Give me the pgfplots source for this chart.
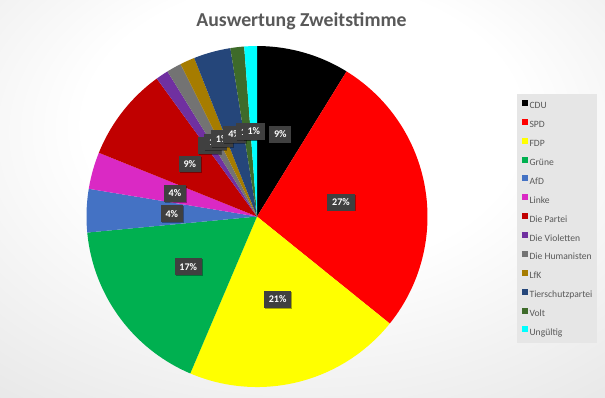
\documentclass[border=0pt]{standalone}
\usepackage{pgfplots}
\pgfplotsset{compat=1.18}
\usepackage{fontspec}
\setmainfont{Carlito}
\usetikzlibrary{shadows}
\definecolor{cCDU}{HTML}{000000}
\definecolor{cSPD}{HTML}{FF0000}
\definecolor{cFDP}{HTML}{FFFF00}
\definecolor{cGRU}{HTML}{00B050}
\definecolor{cAFD}{HTML}{4472C4}
\definecolor{cLIN}{HTML}{DA29C4}
\definecolor{cPAR}{HTML}{C00000}
\definecolor{cVIO}{HTML}{7030A0}
\definecolor{cHUM}{HTML}{737373}
\definecolor{cLFK}{HTML}{A67C00}
\definecolor{cTIE}{HTML}{25467A}
\definecolor{cVOL}{HTML}{3E6B2A}
\definecolor{cUNG}{HTML}{00FFFF}
\definecolor{lblgray}{HTML}{404040}
\definecolor{txtgray}{HTML}{595959}
\definecolor{legbg}{HTML}{E6E6E6}
\definecolor{bgA}{gray}{0.87}
\definecolor{bgB}{gray}{0.81}
\pgfdeclareradialshading{bgshade}{\pgfpoint{0bp}{12bp}}{color(0bp)=(white); color(18bp)=(white); color(50bp)=(bgA); color(80bp)=(bgB)}
% slice: start% end% colour  (clockwise from top)
\newcommand{\slice}[3]{%
  \addplot[fill=#3, draw=none, domain=#1:#2, samples=60, variable=\t]
    ({sin(3.6*\t)},{cos(3.6*\t)}) -- (0,0) -- cycle;}
% label at 0.5 r on the slice's middle
\newcommand{\slicelabel}[2]{%
  \addplot[draw=none, samples at={#1}, variable=\t, nodes near coords={#2},
    every node near coord/.style={lbl}]
    ({0.5*sin(3.6*\t)},{0.5*cos(3.6*\t)});}
\begin{document}
\begin{tikzpicture}[
  lbl/.style={fill=lblgray, text=white, font=\bfseries\fontsize{7.6}{9}\selectfont,
    inner xsep=3.6pt, inner ysep=0pt, minimum height=12.6pt, anchor=center,
    drop shadow={shadow xshift=0.7pt, shadow yshift=-0.7pt, opacity=0.35, fill=black}}]
\path[use as bounding box] (0,0) rectangle (453.75pt,298.5pt);
\shade[shading=bgshade] (0,0) rectangle (453.75pt,298.5pt);
\node[anchor=base, text=txtgray, font=\bfseries\fontsize{14.8}{17}\selectfont]
  at (226.1pt, 278.5pt) {Auswertung Zweitstimme};
\begin{axis}[
  at={(192.75pt,136.1pt)}, anchor=center,
  scale only axis, width=255.75pt, height=255.75pt,
  xmin=-1, xmax=1, ymin=-1, ymax=1,
  axis lines=none, clip=false,
  legend style={at={(1.2616,0.859)}, anchor=north west, draw=none, fill=legbg,
    font=\fontsize{7.2}{8.6}\selectfont, text=txtgray,
    inner xsep=3.75pt, inner ysep=4.2pt, row sep=5.9pt,
    nodes={inner sep=0pt, text height=5.2pt, text depth=1.5pt}},
  legend cell align=left,
  legend image code/.code={\fill[#1] (0pt,0.4pt) rectangle (4.5pt,4.9pt);},
]
\slice{0}{8.8}{cCDU}        \addlegendentry{\,CDU}
\slice{8.8}{35.8}{cSPD}     \addlegendentry{\,SPD}
\slice{35.8}{56.4}{cFDP}    \addlegendentry{\,FDP}
\slice{56.4}{73.5}{cGRU}    \addlegendentry{\,Grüne}
\slice{73.5}{77.6}{cAFD}    \addlegendentry{\,AfD}
\slice{77.6}{81.1}{cLIN}    \addlegendentry{\,Linke}
\slice{81.1}{90.0}{cPAR}    \addlegendentry{\,Die Partei}
\slice{90.0}{91.2}{cVIO}    \addlegendentry{\,Die Violetten}
\slice{91.2}{92.6}{cHUM}    \addlegendentry{\,Die Humanisten}
\slice{92.6}{94.0}{cLFK}    \addlegendentry{\,LfK}
\slice{94.0}{97.5}{cTIE}    \addlegendentry{\,Tierschutzpartei\hspace{5pt}}
\slice{97.5}{98.8}{cVOL}    \addlegendentry{\,Volt}
\slice{98.8}{100}{cUNG}     \addlegendentry{\,Ungültig}
\slicelabel{4.4}{9\%}
\slicelabel{22.3}{27\%}
\slicelabel{46.1}{21\%}
\slicelabel{64.95}{17\%}
\slicelabel{75.55}{4\%}
\slicelabel{79.35}{4\%}
\slicelabel{85.55}{9\%}
\slicelabel{90.6}{1\%}
\slicelabel{91.9}{1\%}
\slicelabel{93.3}{1\%}
\slicelabel{95.75}{4\%}
\slicelabel{98.15}{1\%}
\slicelabel{99.4}{1\%}
\end{axis}
\end{tikzpicture}
\end{document}
